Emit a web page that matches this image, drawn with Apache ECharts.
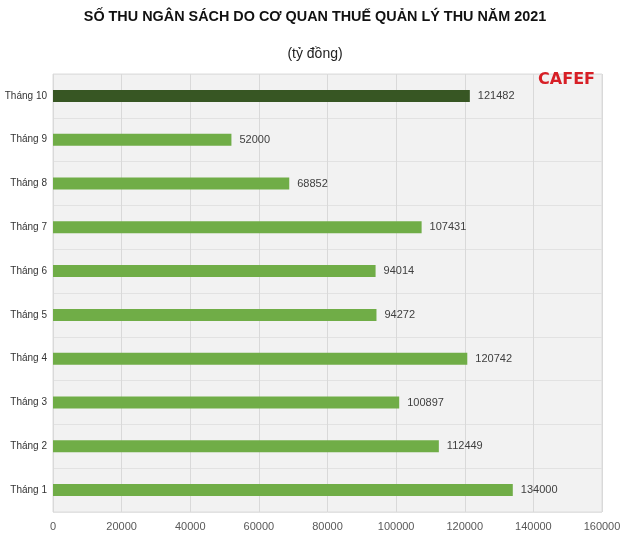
<!DOCTYPE html>
<html><head><meta charset="utf-8">
<script src="https://cdn.jsdelivr.net/npm/echarts@6/dist/echarts.min.js"></script>
<style>html,body{margin:0;padding:0;background:#fff}#c{width:630px;height:536px}</style>
</head><body><div id="c"></div>
<script>
const categories = ['Tháng 1','Tháng 2','Tháng 3','Tháng 4','Tháng 5','Tháng 6','Tháng 7','Tháng 8','Tháng 9','Tháng 10'];
const values = [134000, 112449, 100897, 120742, 94272, 94014, 107431, 68852, 52000, 121482];
const xTicks = [0, 20000, 40000, 60000, 80000, 100000, 120000, 140000, 160000];

const chart = echarts.init(document.getElementById('c'), null, {renderer: 'canvas'});
chart.setOption({
  backgroundColor: '#fff',
  animation: false,
  title: [
    {text: 'SỐ THU NGÂN SÁCH DO CƠ QUAN THUẾ QUẢN LÝ THU NĂM 2021', left: 'center', top: 5,
     textStyle: {fontFamily: 'Liberation Sans, Arial', fontSize: 14.4, fontWeight: 'bold', color: '#111'}},
    {text: '(tỷ đồng)', left: 'center', top: 42,
     textStyle: {fontFamily: 'Liberation Sans, Arial', fontSize: 14, fontWeight: 'normal', color: '#222'}},
    {text: 'CAFEF', right: 30, top: 67,
     textStyle: {fontFamily: 'DejaVu Sans, Liberation Sans', fontSize: 16, fontWeight: 'bold', color: '#d71f26'}}
  ],
  grid: {left: 53, right: 28, top: 74, bottom: 24, outerBoundsMode: 'none', containLabel: false,
    show: true, backgroundColor: '#f2f2f2', borderColor: '#dcdcdc', borderWidth: 1},
  xAxis: {
    type: 'value', min: 0, max: 160000, interval: 20000,
    axisLine: {show: false}, axisTick: {show: false},
    splitLine: {show: true, lineStyle: {color: '#d9d9d9', width: 1}},
    axisLabel: {color: '#595959', fontSize: 11, fontFamily: 'Liberation Sans, Arial', margin: 9,
      formatter: v => xTicks.includes(v) ? String(v) : ''}
  },
  yAxis: {
    type: 'category', data: categories,
    axisLine: {show: false}, axisTick: {show: false},
    splitLine: {show: true, lineStyle: {color: '#e2e2e2', width: 1}},
    axisLabel: {color: '#333', fontSize: 10, fontFamily: 'Liberation Sans, Arial', margin: 6}
  },
  series: [{
    type: 'bar', data: values.map((v, i) => ({value: v, itemStyle: {color: i === values.length - 1 ? '#375623' : '#70ad47'}})),
    barWidth: 12,
    label: {show: true, position: 'right', distance: 8, color: '#404040', fontSize: 11, fontFamily: 'Liberation Sans, Arial'}
  }]
});
</script></body></html>
